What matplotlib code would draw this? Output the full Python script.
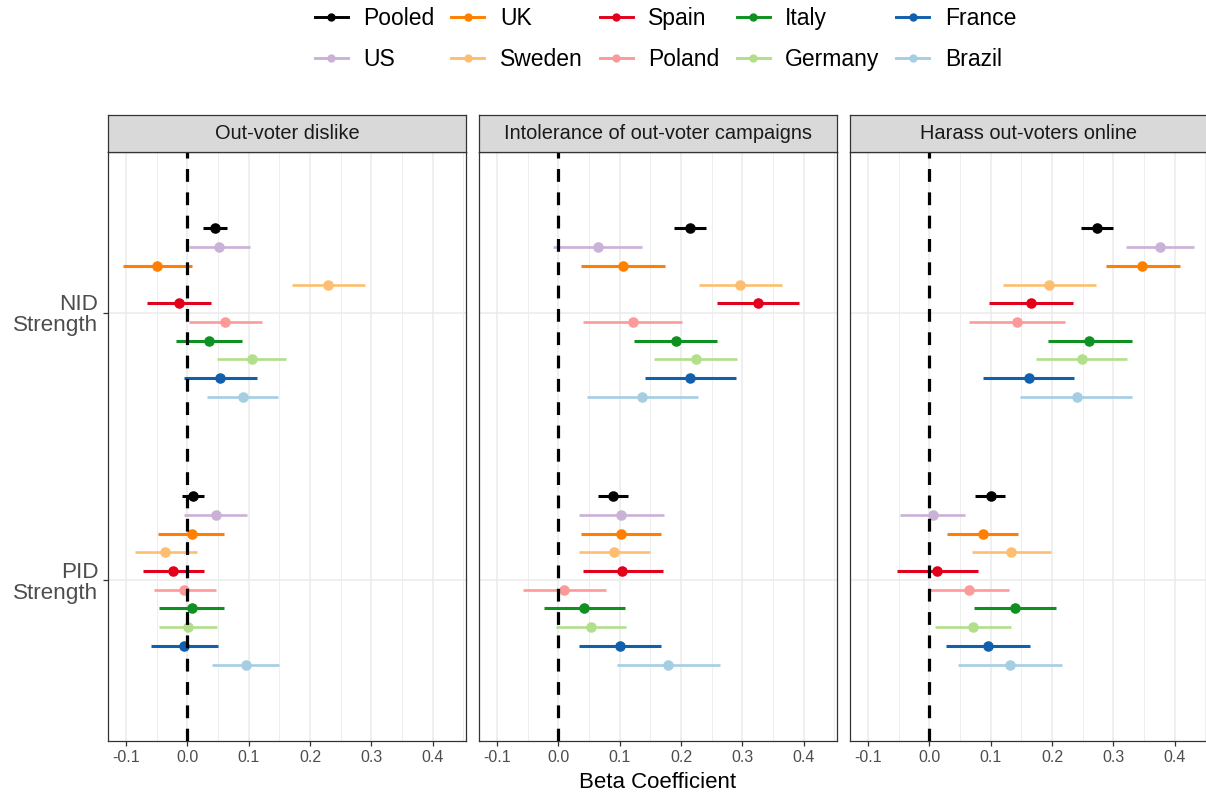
import matplotlib

matplotlib.use("Agg")
import matplotlib.pyplot as plt
from matplotlib.lines import Line2D

plt.rcParams["font.family"] = ["Liberation Sans", "DejaVu Sans"]

countries = ["Pooled", "US", "UK", "Sweden", "Spain", "Poland", "Italy", "Germany", "France", "Brazil"]
colors = ["#000000", "#CAB2D6", "#FF7F00", "#FDBF6F", "#E3001B",
          "#FB9A99", "#0E9120", "#B2DF8A", "#1060AE", "#A6CEE3"]
outcomes = ["Out-voter dislike", "Intolerance of out-voter campaigns", "Harass out-voters online"]
predictors = ["PID\nStrength", "NID\nStrength"]
x_ticks = [-0.1, 0.0, 0.1, 0.2, 0.3, 0.4]

# beta estimates with lower / upper interval bounds, in country order
dislike_nid_est = [0.045, 0.051, -0.049, 0.230, -0.013, 0.062, 0.035, 0.105, 0.054, 0.090]
dislike_nid_lo = [0.026, 0.002, -0.105, 0.171, -0.066, 0.003, -0.018, 0.049, -0.005, 0.032]
dislike_nid_hi = [0.064, 0.103, 0.007, 0.289, 0.039, 0.121, 0.089, 0.161, 0.114, 0.148]
dislike_pid_est = [0.009, 0.046, 0.007, -0.036, -0.023, -0.005, 0.008, 0.001, -0.006, 0.095]
dislike_pid_lo = [-0.009, -0.006, -0.047, -0.086, -0.073, -0.054, -0.046, -0.046, -0.060, 0.041]
dislike_pid_hi = [0.027, 0.098, 0.060, 0.015, 0.027, 0.046, 0.060, 0.048, 0.050, 0.150]

intol_nid_est = [0.214, 0.064, 0.105, 0.297, 0.326, 0.121, 0.192, 0.224, 0.215, 0.136]
intol_nid_lo = [0.189, -0.009, 0.037, 0.229, 0.259, 0.041, 0.124, 0.156, 0.142, 0.046]
intol_nid_hi = [0.241, 0.136, 0.174, 0.365, 0.393, 0.201, 0.259, 0.292, 0.290, 0.228]
intol_pid_est = [0.089, 0.103, 0.103, 0.091, 0.104, 0.010, 0.042, 0.054, 0.101, 0.179]
intol_pid_lo = [0.064, 0.033, 0.037, 0.034, 0.041, -0.057, -0.023, -0.003, 0.033, 0.095]
intol_pid_hi = [0.114, 0.173, 0.168, 0.149, 0.170, 0.078, 0.109, 0.110, 0.168, 0.263]

harass_nid_est = [0.273, 0.376, 0.347, 0.195, 0.166, 0.143, 0.261, 0.249, 0.162, 0.240]
harass_nid_lo = [0.248, 0.321, 0.288, 0.120, 0.098, 0.064, 0.194, 0.174, 0.088, 0.148]
harass_nid_hi = [0.299, 0.431, 0.408, 0.271, 0.235, 0.222, 0.330, 0.322, 0.236, 0.331]
harass_pid_est = [0.100, 0.006, 0.087, 0.133, 0.013, 0.064, 0.140, 0.071, 0.096, 0.132]
harass_pid_lo = [0.075, -0.048, 0.029, 0.069, -0.053, 0.000, 0.073, 0.010, 0.027, 0.047]
harass_pid_hi = [0.123, 0.059, 0.145, 0.198, 0.080, 0.130, 0.207, 0.133, 0.164, 0.217]

panels = [
    {"pid": (dislike_pid_est, dislike_pid_lo, dislike_pid_hi),
     "nid": (dislike_nid_est, dislike_nid_lo, dislike_nid_hi)},
    {"pid": (intol_pid_est, intol_pid_lo, intol_pid_hi),
     "nid": (intol_nid_est, intol_nid_lo, intol_nid_hi)},
    {"pid": (harass_pid_est, harass_pid_lo, harass_pid_hi),
     "nid": (harass_nid_est, harass_nid_lo, harass_nid_hi)},
]

W, H = 1206, 795
fig = plt.figure(figsize=(W / 100, H / 100), dpi=100)


def box(x0, y0, x1, y1):
    return [x0 / W, 1 - y1 / H, (x1 - x0) / W, (y1 - y0) / H]


light = {"US", "Sweden", "Poland", "Germany", "Brazil"}
dodge = 0.07
border = "#333333"

for k, (left, title, data) in enumerate(zip([108, 479, 850], outcomes, panels)):
    ax = fig.add_axes(box(left, 152, left + 358, 741))
    ax.set_xlim(-0.1293, 0.4544)
    ax.set_ylim(0.4, 2.6)
    ax.set_xticks(x_ticks)
    ax.set_xticklabels([f"{v:.1f}" for v in x_ticks])
    ax.set_xticks([-0.05, 0.05, 0.15, 0.25, 0.35, 0.45], minor=True)
    ax.set_yticks([1, 2])
    ax.set_yticklabels(predictors)
    ax.grid(which="major", color="#EBEBEB", lw=1.1)
    ax.grid(which="minor", axis="x", color="#EBEBEB", lw=0.6)
    ax.set_axisbelow(True)
    for sp in ax.spines.values():
        sp.set_color(border)
        sp.set_linewidth(0.9)
    ax.tick_params(axis="x", which="major", length=3.5, width=0.9, color=border,
                   labelsize=11.5, labelcolor="#4D4D4D", pad=3)
    ax.tick_params(axis="x", which="minor", length=0)
    if k == 0:
        ax.tick_params(axis="y", length=3.5, width=0.9, color=border,
                       labelsize=16.2, labelcolor="#4D4D4D", pad=3.5)
        for lab in ax.get_yticklabels():
            lab.set_linespacing(0.98)
    else:
        ax.tick_params(axis="y", left=False, labelleft=False)

    for ypos, key in [(1, "pid"), (2, "nid")]:
        est, lo, hi = data[key]
        for i, name in enumerate(countries):
            yy = ypos + (4.5 - i) * dodge
            lw = 1.9 if name in light else 2.2
            ax.plot([lo[i], hi[i]], [yy, yy], color=colors[i], lw=lw,
                    solid_capstyle="butt", zorder=3)
            ax.plot(est[i], yy, "o", color=colors[i], ms=7.6, mew=0, zorder=4)

    ax.axvline(0, color="black", lw=2.3, ls=(0, (4, 3.3)), zorder=5)

    sax = fig.add_axes(box(left, 115, left + 358, 152))
    sax.set_facecolor("#D9D9D9")
    sax.set_xticks([])
    sax.set_yticks([])
    for sp in sax.spines.values():
        sp.set_color(border)
        sp.set_linewidth(0.9)
    sax.text(0.5, 0.5, title, transform=sax.transAxes, ha="center", va="center",
             fontsize=14.4, color="#1A1A1A")

fig.text(658 / W, 1 - 783 / H, "Beta Coefficient", ha="center", va="center", fontsize=16)

handles = [Line2D([], [], color=c, lw=2.1, marker="o", ms=6, mew=0) for c in colors]
fig.legend(handles, countries, ncol=5, loc="center",
           bbox_to_anchor=(665.5 / W, 1 - 39 / H), frameon=False, fontsize=16.5,
           handlelength=1.44, handletextpad=0.68, columnspacing=0.74,
           labelspacing=0.8, borderpad=0, borderaxespad=0)

fig.savefig("out.png", dpi=100)
plt.close(fig)
